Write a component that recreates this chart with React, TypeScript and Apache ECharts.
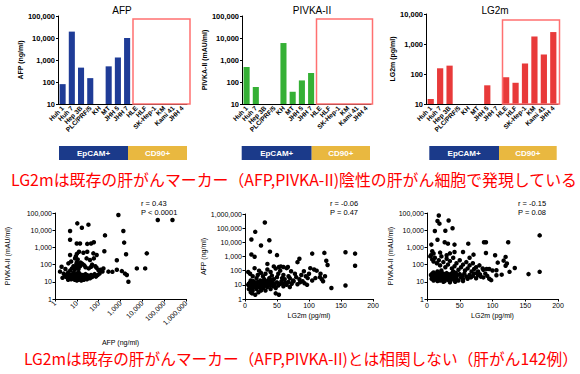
import React, { useEffect, useRef } from 'react';
import * as echarts from 'echarts';

const cellLines = ['Huh 1', 'Huh 7', 'Hep 3B', 'PLC/PRF/5', 'KH', 'MT', 'JHH 5', 'JHH 7', 'HLE', 'HLF', 'SK-Hep-1', 'KM', 'Kami 41', 'JHH 4'];
const afpValues = [80, 19500, 450, 150, null, 515, 1300, 10000, null, null, null, null, null, null];
const pivkaValues = [480, 60, null, null, 5900, 36, 118, 257, null, null, null, null, null, null];
const lg2mValues = [14.7, 155, 190, null, null, null, 42, null, 78, 51, 224, 1780, 447, 2500];

const barTitles = ['AFP', 'PIVKA-II', 'LG2m'];
const barAxisNames = ['AFP (ng/ml)', 'PIVKA-II (mAU/ml)', 'LG2m (pg/ml)'];
const groupLabels = ['EpCAM+', 'CD90+'];

const headline1 = 'LG2mは既存の肝がんマーカー（AFP,PIVKA-II)陰性の肝がん細胞で発現している';
const headline2 = 'LG2mは既存の肝がんマーカー（AFP,PIVKA-II)とは相関しない（肝がん142例）';

const statR = ['r = 0.43', 'r = -0.06', 'r = -0.15'];
const statP = ['P < 0.0001', 'P = 0.47', 'P = 0.08'];

// AFP (ng/ml) vs PIVKA-II (mAU/ml)
const afpVsPivka: number[][] = [
  [800, 76000], [51000, 39000], [240000, 39000], [10.5, 25000], [34, 21000], [17, 14000], [4.9, 9000], [1350, 9000],
  [195, 5000], [4.9, 2800], [1470, 1900], [9.9, 1700], [14, 1700], [30, 1600], [45, 1700], [60, 2000], [182, 600],
  [1800, 400], [16000, 450], [680, 180], [5600, 60], [13500, 60], [1150, 42], [1600, 30], [1950, 25], [2300, 10],
  [680, 50], [425, 38],
  [4.9, 360], [12.6, 560], [20, 490], [30, 560], [57, 450], [81, 360], [8.3, 230], [28, 230], [40, 185], [60, 230],
  [2.0, 75], [1.7, 39], [4.1, 118], [5.5, 150], [11.7, 95], [14, 80], [165, 60], [280, 39], [97, 48], [110, 30],
  [9, 300], [10, 420], [11, 200], [10, 140], [9.5, 110], [10.5, 90], [10, 75], [10, 65], [12, 55], [15, 130], [18, 110],
  [22, 90], [25, 70], [35, 60], [45, 75], [50, 100], [70, 80], [80, 65], [120, 50], [150, 40], [6, 60], [7, 80], [8, 50],
  [5, 45], [3, 55], [2.5, 30], [4, 35], [3.5, 25],
  [3, 20], [3.5, 18], [4, 22], [4.5, 16], [5, 20], [5, 25], [5.5, 14], [6, 18], [6, 22], [6.5, 28], [7, 15], [7, 20],
  [7.5, 24], [8, 17], [8, 13], [8.5, 21], [9, 16], [9, 26], [9.5, 19], [10, 12], [10, 14], [10, 18], [10, 22], [10, 30],
  [11, 16], [11, 20], [12, 13], [12, 24], [13, 18], [13, 15], [14, 21], [14, 28], [15, 17], [16, 12], [16, 23], [17, 19],
  [18, 15], [19, 25], [20, 18], [21, 13], [22, 22], [24, 16], [25, 28], [27, 20], [29, 14], [30, 24], [33, 18], [36, 22],
  [40, 16], [45, 25], [50, 19], [55, 22], [65, 28], [75, 20], [90, 25], [2.2, 17], [2.8, 25], [4, 13], [7, 33], [12, 35]
];

// LG2m (pg/ml) vs AFP (ng/ml)
const lg2mVsAfp: number[][] = [
  [31, 250000], [16, 55000], [10, 16000], [38, 14000], [25, 6000], [10, 1400], [15, 950], [39, 2200], [50, 1250],
  [105, 1600], [124, 1800], [127, 500], [129, 250], [157, 2000], [172, 1600], [172, 220], [135, 6], [157, 9], [85, 700],
  [82, 400], [67, 180], [53, 180], [56, 200], [108, 120], [112, 100], [118, 60], [117, 35],
  [5, 80], [8, 60], [12, 40], [15, 150], [18, 30], [20, 50], [22, 100], [25, 70], [28, 40], [30, 25], [32, 60], [35, 120],
  [38, 30], [40, 80], [42, 45], [45, 25], [48, 140], [50, 35], [52, 60], [55, 100], [58, 30], [60, 50], [62, 25], [65, 150],
  [68, 40], [70, 30], [72, 90], [75, 20], [78, 60], [80, 35], [85, 25], [88, 50], [90, 18], [95, 40], [98, 30], [100, 60],
  [105, 20], [110, 30], [120, 25], [122, 18], [125, 40], [102, 150], [92, 90], [60, 180], [45, 200], [35, 300],
  [5, 10], [6, 5], [7, 8], [8, 15], [9, 3], [10, 12], [10, 6], [11, 9], [12, 4], [13, 18], [14, 7], [15, 11], [16, 2],
  [17, 14], [18, 5], [19, 9], [20, 16], [21, 3], [22, 12], [23, 7], [24, 20], [25, 4], [26, 10], [27, 15], [28, 6],
  [29, 12], [30, 8], [31, 18], [32, 4], [33, 11], [34, 14], [35, 7], [36, 20], [38, 9], [40, 5], [41, 13], [43, 17],
  [44, 8], [46, 11], [48, 6], [50, 15], [52, 9], [53, 2], [55, 12], [57, 18], [60, 8], [63, 14], [65, 10], [68, 16],
  [70, 7], [73, 12], [76, 18], [82, 11], [86, 15], [93, 13], [97, 10], [12, 13], [14, 16], [20, 10], [27, 8], [8, 9],
  [6, 12], [9, 20], [11, 2.5], [18, 11], [22, 7], [26, 17], [37, 12], [45, 10], [58, 13], [40, 22], [48, 2.5]
];

// LG2m (pg/ml) vs PIVKA-II (mAU/ml)
const lg2mVsPivka: number[][] = [
  [18, 72000], [16, 34000], [19, 24000], [33, 37000], [12, 9000], [28, 9300], [39, 13000], [16, 2800], [27, 2000],
  [32, 1650], [6.6, 1450], [42, 1450], [63, 1650], [87, 2000], [90, 2000], [124, 2000], [172, 5000], [8, 600], [10, 440],
  [6, 350], [42, 540], [55, 540], [71, 380], [90, 475], [104, 350], [172, 38], [155, 28],
  [120, 280], [117, 170], [108, 130], [122, 115], [134, 64], [120, 85], [106, 47], [126, 38], [114, 26], [106, 24],
  [98, 12.5], [95, 15], [91, 55], [86, 50], [81, 27], [76, 32], [89, 30],
  [5, 300], [8, 200], [10, 150], [12, 250], [15, 120], [18, 180], [20, 90], [22, 300], [25, 140], [28, 70], [30, 220],
  [32, 100], [35, 160], [38, 60], [40, 250], [42, 80], [45, 120], [48, 50], [50, 180], [52, 70], [55, 100], [58, 45],
  [60, 140], [62, 60], [65, 90], [68, 40], [70, 120], [72, 55], [75, 70], [78, 40], [80, 90], [85, 60], [95, 55],
  [100, 45], [65, 250], [30, 350], [35, 450], [20, 500],
  [6, 25], [7, 15], [8, 30], [9, 20], [10, 12], [10, 35], [11, 18], [12, 25], [13, 14], [14, 30], [15, 20], [16, 11],
  [17, 28], [18, 16], [19, 22], [20, 12], [21, 35], [22, 19], [23, 26], [24, 14], [25, 30], [26, 18], [27, 11], [28, 24],
  [29, 16], [30, 32], [31, 20], [32, 13], [33, 27], [34, 17], [35, 22], [36, 12], [37, 30], [38, 18], [40, 25], [41, 14],
  [42, 20], [44, 33], [45, 16], [46, 24], [48, 12], [50, 28], [52, 18], [54, 22], [55, 14], [57, 30], [60, 20], [62, 15],
  [65, 25], [67, 18], [70, 22], [72, 30], [75, 16], [78, 25], [82, 20], [86, 18], [92, 22], [25, 10], [35, 9.5], [43, 10],
  [55, 11], [16, 40], [22, 45], [40, 40]
];

const FONT = '"Liberation Sans", Arial, sans-serif';
const JP = '"Noto Sans CJK JP", sans-serif';
const fmt = (v: number) => Number(v).toLocaleString('en-US');

export default function App() {
  const ref = useRef<HTMLDivElement>(null);
  useEffect(() => {
    document.body.style.margin = '0';
    if (!ref.current) return;
    const chart = echarts.init(ref.current, null, { renderer: 'svg' });

    const barGrids = [
      { left: 58, top: 16, width: 129, height: 88 },
      { left: 242, top: 16, width: 129, height: 88 },
      { left: 426, top: 14, width: 132, height: 90 },
    ];
    const scGrids = [
      { left: 55, top: 213, width: 131, height: 86 },
      { left: 245, top: 214, width: 128, height: 85 },
      { left: 427, top: 213, width: 131, height: 86 },
    ];
    const barColors = ['#1f3c97', '#35b035', '#e83a3a'];
    const barData = [afpValues, pivkaValues, lg2mValues];
    const barMax = [100000, 100000, 10000];
    const barNameGap = [34, 33, 28];

    const axisLineStyle = { lineStyle: { color: '#000', width: 1 } };

    const xAxes: any[] = [];
    const yAxes: any[] = [];
    const series: any[] = [];

    for (let i = 0; i < 3; i++) {
      xAxes.push({
        type: 'category', gridIndex: i, data: cellLines,
        axisLine: axisLineStyle,
        axisTick: { alignWithLabel: true, length: 2, lineStyle: { color: '#000' } },
        axisLabel: { rotate: 45, interval: 0, fontSize: 6.5, fontWeight: 'bold', color: '#000', margin: 3, fontFamily: FONT },
      });
      yAxes.push({
        type: 'log', gridIndex: i, min: 10, max: barMax[i], logBase: 10,
        name: barAxisNames[i], nameLocation: 'middle', nameGap: barNameGap[i],
        nameTextStyle: { fontSize: 7, fontWeight: 'bold', color: '#000', fontFamily: FONT },
        axisLine: { show: true, ...axisLineStyle },
        axisTick: { show: true, length: 2, lineStyle: { color: '#000' } },
        splitLine: { show: false },
        axisLabel: { fontSize: 7.5, fontWeight: 'bold', color: '#000', margin: 3, fontFamily: FONT, formatter: fmt },
      });
      series.push({
        type: 'bar', xAxisIndex: i, yAxisIndex: i, data: barData[i], barWidth: '66%',
        itemStyle: { color: barColors[i] }, clip: true,
      });
    }

    // scatter axes
    const scX = [
      { type: 'log', min: 1, max: 1000000, name: 'AFP (ng/ml)', gap: 40, rotate: 45 },
      { type: 'value', min: 0, max: 200, interval: 50, name: 'LG2m (pg/ml)', gap: 13, rotate: 0 },
      { type: 'value', min: 0, max: 200, interval: 50, name: 'LG2m (pg/ml)', gap: 13, rotate: 0 },
    ];
    const scY = [
      { max: 100000, name: 'PIVKA-II (mAU/ml)', gap: 44 },
      { max: 1000000, name: 'AFP (ng/ml)', gap: 38 },
      { max: 100000, name: 'PIVKA-II (mAU/ml)', gap: 33 },
    ];
    const scData = [afpVsPivka, lg2mVsAfp, lg2mVsPivka];
    for (let i = 0; i < 3; i++) {
      const gi = 3 + i;
      const xa: any = {
        type: scX[i].type, gridIndex: gi, min: scX[i].min, max: scX[i].max,
        name: scX[i].name, nameLocation: 'middle', nameGap: scX[i].gap,
        nameTextStyle: { fontSize: 7, color: '#000', fontFamily: FONT },
        axisLine: { show: true, onZero: false, ...axisLineStyle },
        axisTick: { show: true, length: 2.5, lineStyle: { color: '#000' } },
        splitLine: { show: false },
        axisLabel: { fontSize: 7, color: '#000', margin: 3, rotate: scX[i].rotate, fontFamily: FONT, formatter: fmt, showMinLabel: true, showMaxLabel: true },
      };
      if (scX[i].type === 'log') xa.logBase = 10;
      if ((scX[i] as any).interval) xa.interval = (scX[i] as any).interval;
      xAxes.push(xa);
      yAxes.push({
        type: 'log', gridIndex: gi, min: 1, max: scY[i].max, logBase: 10,
        name: scY[i].name, nameLocation: 'middle', nameGap: scY[i].gap,
        nameTextStyle: { fontSize: 7, color: '#000', fontFamily: FONT },
        axisLine: { show: true, onZero: false, ...axisLineStyle },
        axisTick: { show: true, length: 2.5, lineStyle: { color: '#000' } },
        splitLine: { show: false },
        axisLabel: { fontSize: 7, color: '#000', margin: 3, fontFamily: FONT, formatter: fmt },
      });
      series.push({
        type: 'scatter', xAxisIndex: gi, yAxisIndex: gi, data: scData[i],
        symbolSize: 4.5, itemStyle: { color: '#000', opacity: 1 },
      });
    }

    const txt = (text: string, x: number, y: number, o: any = {}) => ({
      type: 'text', x, y, z: 100,
      style: {
        text, fill: o.fill || '#000', fontSize: o.fontSize || 7, fontWeight: o.fontWeight || 'normal',
        fontFamily: o.fontFamily || FONT, align: o.align || 'left', verticalAlign: 'middle',
        textAlign: o.align || 'left', textVerticalAlign: 'middle',
      },
    });

    const graphic: any[] = [];
    const titleX = [122, 312, 495];
    barTitles.forEach((t, i) => graphic.push(txt(t, titleX[i], 10, { fontSize: 10, align: 'center' })));

    const redBoxes = [
      [133, 19, 57, 85],
      [316.5, 19, 56, 85],
      [502.5, 20, 57, 84],
    ];
    redBoxes.forEach(([x, y, w, h]) => graphic.push({
      type: 'rect', z: 50, shape: { x, y, width: w, height: h },
      style: { fill: 'none', stroke: '#ff7070', lineWidth: 1.5 },
    }));

    const groupBoxes = [
      [59, 128, 187],
      [241.7, 311.7, 370],
      [429.3, 499, 556.7],
    ];
    groupBoxes.forEach(([a, b, c]) => {
      graphic.push({ type: 'rect', z: 40, shape: { x: a, y: 146, width: b - a, height: 14 }, style: { fill: '#1b3a8a' } });
      graphic.push({ type: 'rect', z: 40, shape: { x: b, y: 146, width: c - b, height: 14 }, style: { fill: '#e9b840' } });
      graphic.push(txt(groupLabels[0], (a + b) / 2, 153, { fill: '#fff', fontSize: 8, fontWeight: 'bold', align: 'center' }));
      graphic.push(txt(groupLabels[1], (b + c) / 2, 153, { fill: '#fff', fontSize: 8, fontWeight: 'bold', align: 'center' }));
    });

    graphic.push(txt(headline1, 11, 179, { fill: '#ff0000', fontSize: 15.9, fontFamily: JP }));
    graphic.push(txt(headline2, 24, 358, { fill: '#ff0000', fontSize: 15.7, fontFamily: JP }));

    const statX = [141, 330, 518];
    statX.forEach((x, i) => {
      graphic.push(txt(statR[i], x, 203, { fontSize: 7.5 }));
      graphic.push(txt(statP[i], x, 212.5, { fontSize: 7.5 }));
    });

    chart.setOption({
      animation: false,
      backgroundColor: '#fff',
      grid: [...barGrids, ...scGrids].map((g) => ({ ...g, containLabel: false })),
      xAxis: xAxes,
      yAxis: yAxes,
      series,
      graphic,
    });
    return () => chart.dispose();
  }, []);
  return <div ref={ref} style={{ width: 580, height: 374 }} />;
}
